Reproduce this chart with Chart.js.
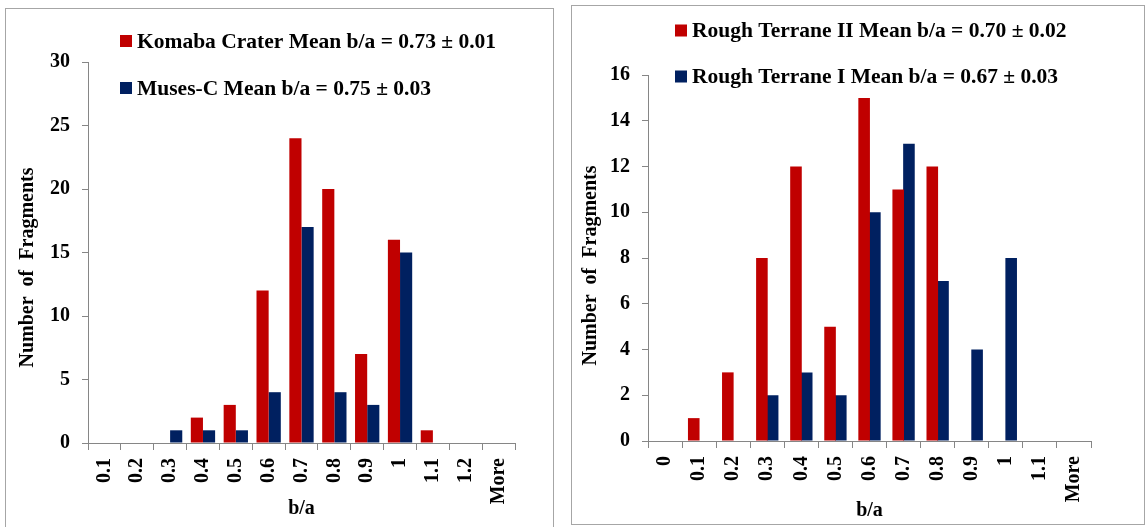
<!DOCTYPE html>
<html>
<head>
<meta charset="utf-8">
<script src="https://cdn.jsdelivr.net/npm/chart.js@4.4.0/dist/chart.umd.min.js"></script>
<style>
  body { margin:0; background:#fff; width:1147px; height:527px; overflow:hidden; position:relative; }
  .panel { position:absolute; border:1px solid #a6a6a6; box-sizing:border-box; background:#fff; }
  #leftPanel { left:5px; top:8px; width:549px; height:522px; }
  #rightPanel { left:571px; top:5px; width:574px; height:520px; }
</style>
</head>
<body>
<div class="panel" id="leftPanel"><canvas id="leftChart"></canvas></div>
<div class="panel" id="rightPanel"><canvas id="rightChart"></canvas></div>
<script>
// left histogram
var leftLabels = ['0.1', '0.2', '0.3', '0.4', '0.5', '0.6', '0.7', '0.8', '0.9', '1', '1.1', '1.2', 'More'];
var komaba = [0, 0, 0, 2, 3, 12, 24, 20, 7, 16, 1, 0, 0];
var musesC = [0, 0, 1, 1, 1, 4, 17, 4, 3, 15, 0, 0, 0];

// right histogram
var rightLabels = ['0', '0.1', '0.2', '0.3', '0.4', '0.5', '0.6', '0.7', '0.8', '0.9', '1', '1.1', 'More'];
var roughII = [0, 1, 3, 8, 12, 5, 15, 11, 12, 0, 0, 0, 0];
var roughI = [0, 0, 0, 2, 3, 2, 10, 13, 7, 4, 8, 0, 0];

var RED = '#C00000';
var NAVY = '#002060';
var AXIS = '#868686';
var FONT = '"Liberation Serif", "Times New Roman", serif';

// legend drawn over the plot, like the Excel original
var insideLegend = {
  id: 'insideLegend',
  afterDraw: function (chart, args, opts) {
    var ctx = chart.ctx;
    ctx.save();
    ctx.font = 'bold 21.5px ' + FONT;
    ctx.textBaseline = 'middle';
    chart.data.datasets.forEach(function (ds, i) {
      var y = opts.y + i * opts.gap;
      ctx.fillStyle = ds.backgroundColor;
      ctx.fillRect(opts.x, y - 6, 12, 12);
      ctx.fillStyle = '#000';
      ctx.fillText(ds.label, opts.x + 17, y + 1);
    });
    ctx.restore();
  }
};

function makeChart(id, labels, sets, o) {
  var ctx = document.getElementById(id).getContext('2d');
  return new Chart(ctx, {
    type: 'bar',
    data: {
      labels: labels,
      datasets: sets.map(function (s) {
        return {
          label: s.label,
          data: s.data,
          backgroundColor: s.color,
          borderWidth: 0,
          categoryPercentage: o.catPct,
          barPercentage: o.barPct
        };
      })
    },
    options: {
      responsive: true,
      maintainAspectRatio: false,
      animation: false,
      layout: { padding: { top: o.top, right: o.right, left: 0, bottom: 0 } },
      plugins: {
        legend: { display: false },
        tooltip: { enabled: false },
        insideLegend: o.legend
      },
      scales: {
        x: {
          afterFit: function (scale) { scale.height = o.xHeight; },
          grid: { drawOnChartArea: false, drawTicks: true, tickLength: 7, color: AXIS, offset: true },
          border: { color: AXIS },
          ticks: {
            color: '#000', font: { family: FONT, size: 20, weight: 'bold' },
            minRotation: 90, maxRotation: 90, autoSkip: false, padding: 8
          },
          title: {
            display: true, text: 'b/a', color: '#000',
            font: { family: FONT, size: 20, weight: 'bold' },
            padding: { top: 0, bottom: o.xTitlePad }
          }
        },
        y: {
          min: 0,
          max: o.yMax,
          afterFit: function (scale) { scale.width = o.yWidth; },
          grid: { drawOnChartArea: false, drawTicks: true, tickLength: 6, color: AXIS },
          border: { color: AXIS },
          ticks: {
            stepSize: o.step, color: '#000', padding: 12,
            font: { family: FONT, size: 20, weight: 'bold' }
          },
          title: {
            // trailing spaces push the title a little below the axis centre, as in the original
            display: true, text: 'Number  of  Fragments' + o.titleShift, color: '#000',
            font: { family: FONT, size: 20, weight: 'bold' },
            padding: { top: o.yTitlePad, bottom: 0 }
          }
        }
      }
    },
    plugins: [insideLegend]
  });
}

makeChart('leftChart', leftLabels, [
  { label: 'Komaba Crater Mean b/a = 0.73 ± 0.01', data: komaba, color: RED },
  { label: 'Muses-C Mean b/a = 0.75 ± 0.03', data: musesC, color: NAVY }
], {
  catPct: 0.74, barPct: 1.0, top: 53, right: 38, xHeight: 86, yWidth: 82,
  yMax: 30, step: 5, xTitlePad: 8, yTitlePad: 10, titleShift: '      ',
  legend: { x: 114, y: 32, gap: 47 }
});

makeChart('rightChart', rightLabels, [
  { label: 'Rough Terrane II Mean b/a = 0.70 ± 0.02', data: roughII, color: RED },
  { label: 'Rough Terrane I Mean b/a = 0.67 ± 0.03', data: roughI, color: NAVY }
], {
  catPct: 0.63, barPct: 1.08, top: 69, right: 53, xHeight: 83, yWidth: 76,
  yMax: 16, step: 2, xTitlePad: 1, yTitlePad: 7, titleShift: '   ',
  legend: { x: 103, y: 24.5, gap: 46 }
});
</script>
</body>
</html>
